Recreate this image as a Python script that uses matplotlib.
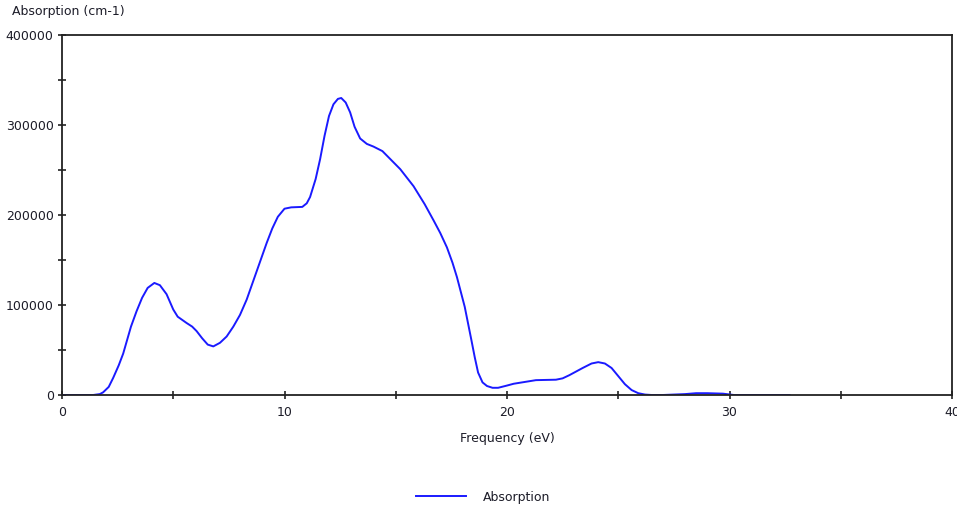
import matplotlib.pyplot as plt
import matplotlib as mpl

mpl.rcParams['font.family'] = 'DejaVu Sans'
mpl.rcParams['font.size'] = 9

# values
freq = [0, 1.0, 1.4, 1.7, 1.85, 2.1, 2.3, 2.55, 2.75, 3.1, 3.35, 3.6, 3.85,
        4.15, 4.4, 4.7, 5.0, 5.2, 5.6, 5.85, 6.05, 6.3, 6.55, 6.8, 7.1, 7.4,
        7.7, 8.0, 8.3, 8.6, 8.9, 9.2, 9.45, 9.7, 10.0, 10.3, 10.8, 11.0,
        11.15, 11.4, 11.6, 11.8, 12.0, 12.2, 12.4, 12.55, 12.75, 12.95, 13.15,
        13.4, 13.7, 14.0, 14.4, 14.8, 15.2, 15.8, 16.3, 16.7, 17.0, 17.3,
        17.55, 17.75, 18.1, 18.4, 18.55, 18.7, 18.9, 19.1, 19.35, 19.6, 20.0,
        20.3, 20.8, 21.3, 22.2, 22.5, 22.8, 23.1, 23.4, 23.8, 24.1, 24.4,
        24.7, 25.0, 25.3, 25.6, 25.9, 26.2, 26.5, 27.0, 28.0, 28.5, 29.0,
        29.7, 30.2, 32.7]
absorption = [0, 0, 0, 1000, 3000, 9000, 19000, 33000, 46000, 76000, 93000,
              108000, 119000, 124500, 122000, 112000, 95000, 87000, 80000,
              76000, 71000, 63000, 56000, 54000, 58000, 65000, 76000, 89000,
              106000, 127000, 148000, 169000, 185000, 198000, 207000, 208500,
              209000, 213000, 220000, 240000, 262000, 288000, 310000, 323000,
              329000, 330000, 325000, 314000, 298000, 285000, 279000, 276000,
              271000, 261000, 251000, 232000, 212000, 194000, 180000, 164000,
              147000, 131000, 98000, 61000, 42000, 25000, 14000, 10000, 8000,
              8000, 10500, 12500, 14500, 16500, 17000, 18500, 22000, 26000,
              30000, 35000, 36500, 35000, 30000, 21000, 12000, 5500, 2000, 500,
              0, 0, 1000, 2000, 2000, 1500, 0, 0]

x_ticks = [0, 10, 20, 30, 40]
y_ticks = [0, 100000, 200000, 300000, 400000]
text_col = '#1c1c28'

fig = plt.figure(figsize=(9.57, 5.09), dpi=100)
ax = fig.add_axes([62 / 957, 114 / 509, 890 / 957, 360 / 509])
ax.plot(freq, absorption, color='#1a1aff', lw=1.4, label='Absorption',
        solid_joinstyle='round')

ax.set_xlim(0, 40)
ax.set_ylim(0, 400000)
ax.set_xticks(x_ticks)
ax.set_xticks([5, 15, 25, 35], minor=True)
ax.set_yticks(y_ticks)
ax.set_yticks([50000, 150000, 250000, 350000], minor=True)
ax.set_xticklabels([str(t) for t in x_ticks])
ax.set_yticklabels([str(t) for t in y_ticks])
ax.tick_params(which='both', direction='inout', length=6, width=1.2,
               colors='#222222', labelcolor=text_col, labelsize=9)
ax.tick_params(axis='x', pad=5)
ax.tick_params(axis='y', pad=3)
for s in ax.spines.values():
    s.set_color('#222222')
    s.set_linewidth(1.3)

ax.set_xlabel('Frequency (eV)', color=text_col, fontsize=9, labelpad=9)
fig.text(12 / 957, 1 - 12 / 509, 'Absorption (cm-1)', color=text_col,
         fontsize=9, va='center', ha='left')

fig.legend(loc='center', bbox_to_anchor=(0.505, 1 - 497 / 509), frameon=False,
           handlelength=4, handletextpad=1.4, fontsize=9, labelcolor=text_col)

fig.savefig('out.png', dpi=100)
